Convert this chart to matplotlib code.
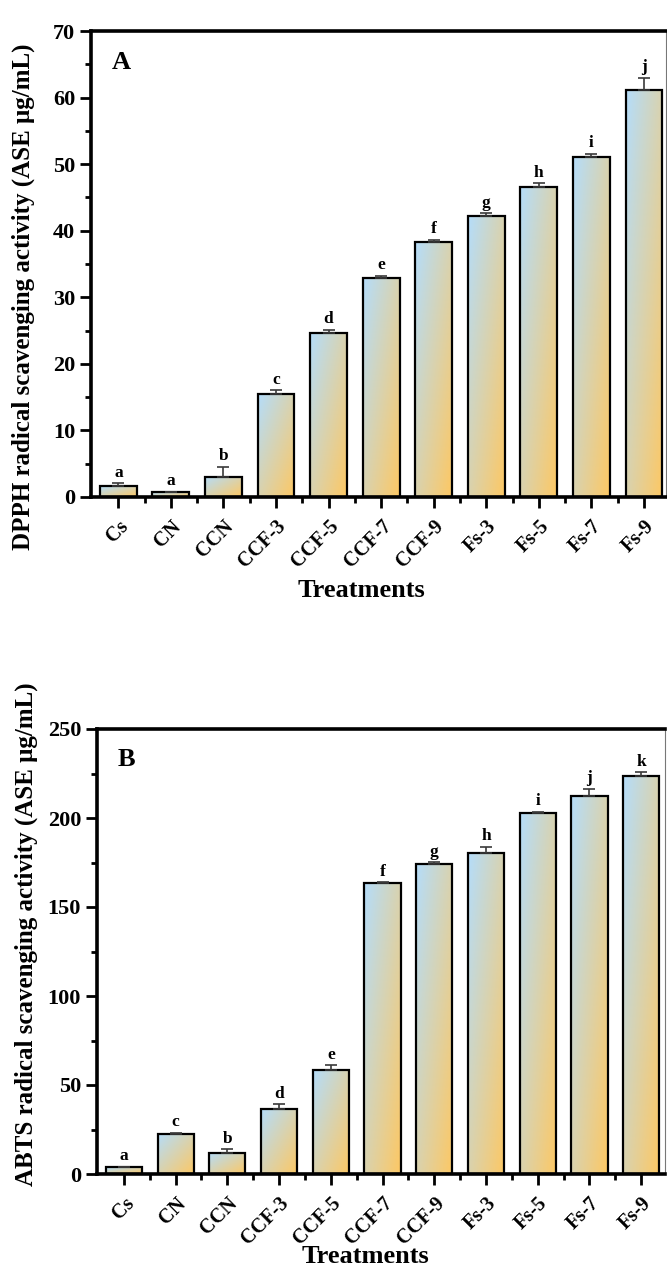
import numpy as np
import matplotlib
matplotlib.use('Agg')
import matplotlib.pyplot as plt
import matplotlib.transforms as mtransforms
from matplotlib.ticker import MultipleLocator, FixedLocator

plt.rcParams['font.family'] = ['Liberation Serif', 'DejaVu Serif']
plt.rcParams['font.weight'] = 'bold'

treatments = ['Cs', 'CN', 'CCN', 'CCF-3', 'CCF-5', 'CCF-7', 'CCF-9',
              'Fs-3', 'Fs-5', 'Fs-7', 'Fs-9']

dpph_mean = [1.65, 0.7, 3.05, 15.4, 24.6, 32.85, 38.3, 42.2, 46.6, 51.1, 61.1]
dpph_err = [0.4, 0.1, 1.5, 0.6, 0.5, 0.4, 0.3, 0.4, 0.5, 0.4, 1.8]
dpph_letters = ['a', 'a', 'b', 'c', 'd', 'e', 'f', 'g', 'h', 'i', 'j']

abts_mean = [3.7, 22.5, 11.8, 36.5, 58.4, 163.3, 174.3, 180.2, 202.6, 212.4, 223.6]
abts_err = [0.5, 0.5, 2.1, 2.6, 2.6, 0.5, 0.8, 3.7, 1.0, 4.0, 2.0]
abts_letters = ['a', 'c', 'b', 'd', 'e', 'f', 'g', 'h', 'i', 'j', 'k']

blue = np.array([181, 221, 250]) / 255
orange = np.array([253, 200, 100]) / 255


def gradient_bars(ax, x, heights):
    bars = ax.bar(x, heights, width=0.7, facecolor='none', edgecolor='black',
                  linewidth=1.6, zorder=3)
    n = 64
    u = np.linspace(0, 1, n)
    U, V = np.meshgrid(u, u)          # V: 0 at top, 1 at bottom
    t = (U + V) / 2
    img = blue[None, None, :] * (1 - t[..., None]) + orange[None, None, :] * t[..., None]
    for b in bars:
        x0, y0 = b.get_x(), b.get_y()
        w, h = b.get_width(), b.get_height()
        im = ax.imshow(img, extent=[x0, x0 + w, y0, y0 + h], origin='upper',
                       aspect='auto', zorder=2, interpolation='bilinear')
        im.set_clip_path(b)
    return bars


def panel(ax, mean, err, letters, ymax, major, ylabel, tag, ylab_xy, xlab_xy, xlim_r):
    x = np.arange(len(treatments))
    gradient_bars(ax, x, mean)
    ax.errorbar(x, mean, yerr=[np.zeros(len(err)), err], fmt='none',
                ecolor='#3a3a3a', elinewidth=1.2, capsize=4, capthick=1.2, zorder=4)
    pad = ymax * 0.006
    for xi, m, e, lt in zip(x, mean, err, letters):
        ax.text(xi, m + e + pad, lt, ha='center', va='bottom', fontsize=12.5,
                fontweight='bold', zorder=5)
    ax.set_xlim(-0.52, xlim_r)
    ax.set_ylim(0, ymax)
    ax.yaxis.set_major_locator(MultipleLocator(major))
    ax.yaxis.set_minor_locator(MultipleLocator(major / 2))
    ax.set_xticks(x)
    ax.xaxis.set_minor_locator(FixedLocator(x[:-1] + 0.5))
    ax.set_xticklabels(treatments, rotation=45, ha='right', va='top',
                       rotation_mode='anchor', fontsize=14.5, fontweight='bold')
    shift = mtransforms.ScaledTranslation(0.13, 0, ax.figure.dpi_scale_trans)
    for lab in ax.get_xticklabels():
        lab.set_transform(lab.get_transform() + shift)
    ax.tick_params(axis='y', which='major', labelsize=16, length=8, width=2, direction='out')
    ax.tick_params(axis='y', which='minor', length=4, width=2, direction='out')
    ax.tick_params(axis='x', which='major', length=8, width=2, direction='out', pad=6)
    ax.tick_params(axis='x', which='minor', length=4, width=2, direction='out')
    for lab in ax.get_yticklabels():
        lab.set_fontweight('bold')
    for s in ['left', 'bottom', 'top']:
        ax.spines[s].set_linewidth(2.6)
    ax.spines['right'].set_linewidth(0.8)
    ax.spines['right'].set_color('#777777')
    ax.set_ylabel(ylabel, fontsize=18, fontweight='bold')
    ax.yaxis.set_label_coords(*ylab_xy)
    ax.set_xlabel('Treatments', fontsize=19, fontweight='bold')
    ax.xaxis.set_label_coords(*xlab_xy)
    ax.text(0.036, 0.958, tag, transform=ax.transAxes, fontsize=19,
            fontweight='bold', ha='left', va='top')


fig = plt.figure(figsize=(6.67, 12.7), dpi=100)
ax1 = fig.add_axes([91 / 667, 1 - 497 / 1270, 575 / 667, 466 / 1270])
ax2 = fig.add_axes([97 / 667, 1 - 1174 / 1270, 568 / 667, 445 / 1270])

panel(ax1, dpph_mean, dpph_err, dpph_letters, 70, 10,
      'DPPH radical scavenging activity (ASE μg/mL)', 'A',
      (-0.097, 0.43), (0.47, -0.176), 10.42)
panel(ax2, abts_mean, abts_err, abts_letters, 250, 50,
      'ABTS radical scavenging activity (ASE μg/mL)', 'B',
      (-0.104, 0.54), (0.472, -0.16), 10.46)

fig.savefig('out.png', dpi=100)
